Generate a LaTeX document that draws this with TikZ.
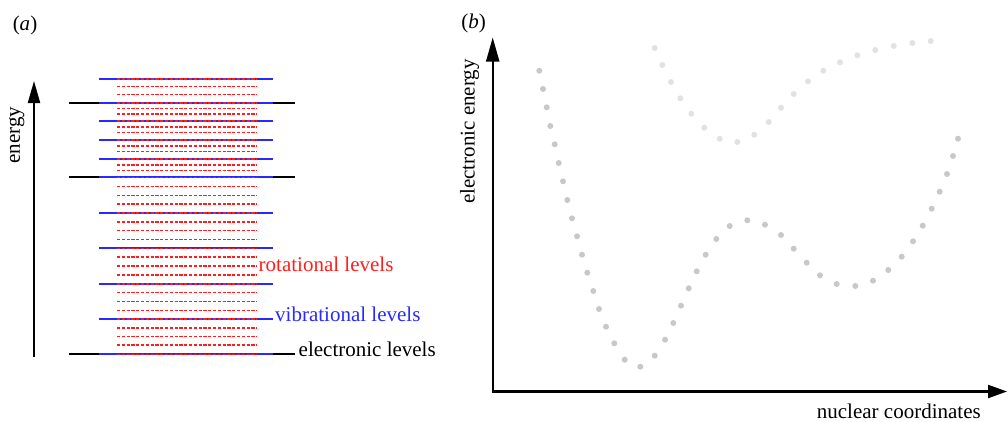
\documentclass[tikz,border=0pt]{standalone}
\usepackage{fontspec}
\setmainfont{Liberation Serif}
\usetikzlibrary{arrows.meta}
\definecolor{dotlo}{RGB}{200,200,200}
\definecolor{dothi}{RGB}{226,226,226}
\definecolor{vblue}{RGB}{40,40,255}
\definecolor{rred}{RGB}{255,30,30}
\begin{document}
\begin{tikzpicture}[x=1pt,y=-1pt,
  lbl/.style={inner sep=0pt, font=\fontsize{21}{25}\selectfont},
  elev/.style={black, line width=2.2pt},
  vlev/.style={vblue, line width=1.7pt},
  rlev/.style={rred, line width=1.6pt, dash pattern=on 3.2pt off 1.6pt},
  axisline/.style={line width=2.2pt},
  lodot/.style={fill=dotlo},
  hidot/.style={fill=dothi}
]
\useasboundingbox (0,0) rectangle (1008,421);

% ---------- panel (a) ----------
\node[lbl] (la) at (25,25) {(\textit{a})};
\coordinate (ebot) at (34,357);
\coordinate (etop) at (34,81);
\draw[axisline, -{Triangle[length=22pt,width=12pt]}] (ebot) -- (etop);
\node[lbl, rotate=90] (energy) at (16.7,135) {energy};

\foreach \y in {102.7,177.3,354.3}
  \draw[elev] (69,\y) -- (295,\y);
\foreach \y in {79,102.7,121,140,159,177.3,212.7,248.3,283.7,319,354.3}
  \draw[vlev] (99,\y) -- (273,\y);
\foreach \y in {79,86.5,94.5,102.7,108.3,114,121,126.8,132.6,140,145.8,151.6,159,164.8,170.6,177.3,
                186.5,195.3,204,212.7,221.7,230.6,239.4,248.3,257.2,266,274.9,283.7,292.5,301.6,310.3,
                319,327.8,336.5,345.2,354.3}
  \draw[rlev] (117,\y) -- (257,\y);

\node[lbl, rred, anchor=base west] (rot) at (258.5,271.7) {rotational levels};
\node[lbl, vblue, anchor=base west] (vib) at (275,321.7) {vibrational levels};
\node[lbl, anchor=base west] (ele) at (298.5,356.8) {electronic levels};

% ---------- panel (b) ----------
\node[lbl] (lb) at (473.5,23) {(\textit{b})};
\coordinate (O) at (492.7,391.5);
\coordinate (Ytop) at (492.7,37.5);
\coordinate (Xend) at (1007,391.5);
\draw[axisline, line join=miter, {Triangle[length=24pt,width=13pt]}-{Triangle[length=19pt,width=13pt]}]
  (Ytop) -- (O) -- (Xend);
\node[lbl, rotate=90] (een) at (469.5,131.5) {electronic energy};
\node[lbl, anchor=base west] (nuc) at (816.7,418.3) {nuclear coordinates};

% lower potential curve
\foreach \x/\y in {539.3/70.7,543/89,546.7/107.3,550.3/126,554.7/144.3,558.7/163,563/181.3,567.3/200,
  572/218.3,577/236.3,582/254.7,587.3/272.7,593.3/291,599/309,606/326.7,614.3/343.3,624.7/359.7,
  640.3/366.7,654.7/355.7,665/339.7,673.3/323,681/305.7,688.7/288.3,696.7/271.3,705.7/254.7,
  716.3/239,729.7/226,747.3/220.3,765/224.7,781/235,793.7/248.7,806.7/262.7,820/275.3,836.7/284,
  855.3/286,873/280.7,888.3/270,901.7/256.7,913/241.3,922.7/225.7,931.7/208.7,939.7/191.7,
  947/174,953/156,958/138.7}
  \fill[lodot] (\x,\y) circle (3);

% upper potential curve
\foreach \x/\y in {654.7/48,662.3/65,671/82,680.3/98.3,691.3/113.7,704.3/127.7,719.7/138.7,
  737.3/142,754.3/134.7,768.7/122,781/107.7,793.7/94,808/81.3,823.3/70.7,840/62.3,857.3/55.3,
  875.3/50,893.7/46,912.3/43,930.7/41}
  \fill[hidot] (\x,\y) circle (3);
\end{tikzpicture}
\end{document}
